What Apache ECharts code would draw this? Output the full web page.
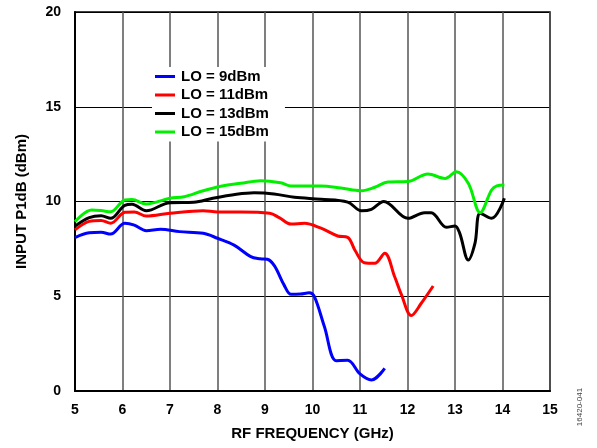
<!DOCTYPE html>
<html>
<head>
<meta charset="utf-8">
<script src="https://cdn.jsdelivr.net/npm/echarts@6/dist/echarts.min.js"></script>
<style>
html,body{margin:0;padding:0;background:#fff;}
#c{width:597px;height:448px;}
</style>
</head>
<body>
<div id="c"></div>
<script>
var seriesNames = ['LO = 9dBm', 'LO = 11dBm', 'LO = 13dBm', 'LO = 15dBm'];
var xTicks = [5, 6, 7, 8, 9, 10, 11, 12, 13, 14, 15];
var yTicks = [0, 5, 10, 15, 20];

var freq9 = [5.0, 5.3, 5.55, 5.75, 6.05, 6.25, 6.5, 6.8, 7.2, 7.7, 8.0, 8.35, 8.7, 8.9, 9.05, 9.2, 9.4, 9.55, 9.75, 9.93, 10.04, 10.25, 10.5, 10.74, 11.0, 11.24, 11.52];
var p1db9 = [8.1, 8.35, 8.38, 8.28, 8.85, 8.75, 8.46, 8.53, 8.41, 8.32, 8.06, 7.70, 7.09, 6.98, 6.95, 6.6, 5.6, 5.1, 5.12, 5.18, 4.98, 3.4, 1.6, 1.62, 0.9, 0.58, 1.2];

var freq11 = [5.0, 5.3, 5.55, 5.75, 6.05, 6.25, 6.5, 7.0, 7.7, 8.0, 8.5, 9.1, 9.3, 9.55, 9.83, 10.18, 10.53, 10.74, 10.9, 11.09, 11.31, 11.52, 11.73, 11.87, 12.08, 12.29, 12.54];
var p1db11 = [8.5, 8.95, 9.0, 8.85, 9.43, 9.45, 9.23, 9.38, 9.51, 9.45, 9.45, 9.38, 9.15, 8.81, 8.85, 8.59, 8.18, 8.11, 7.4, 6.77, 6.74, 7.27, 6.03, 5.1, 3.98, 4.63, 5.54];

var freq13 = [5.0, 5.3, 5.55, 5.75, 6.05, 6.2, 6.5, 7.0, 7.5, 7.9, 8.4, 8.77, 9.19, 9.62, 10.18, 10.74, 11.03, 11.24, 11.5, 12.01, 12.36, 12.5, 12.82, 13.0, 13.1, 13.28, 13.42, 13.53, 13.77, 14.04];
var p1db13 = [8.7, 9.15, 9.25, 9.11, 9.8, 9.85, 9.51, 9.94, 9.96, 10.17, 10.38, 10.46, 10.40, 10.22, 10.12, 9.97, 9.51, 9.59, 10.0, 9.11, 9.41, 9.41, 8.64, 8.71, 8.32, 6.91, 7.79, 9.38, 9.11, 10.17];

var freq15 = [5.0, 5.35, 5.55, 5.75, 6.05, 6.2, 6.5, 7.0, 7.3, 7.7, 8.1, 8.49, 8.91, 9.33, 9.55, 10.18, 10.6, 11.03, 11.31, 11.59, 12.0, 12.43, 12.79, 13.03, 13.28, 13.53, 13.77, 13.88, 14.04];
var p1db15 = [8.93, 9.55, 9.52, 9.46, 10.08, 10.1, 9.87, 10.17, 10.25, 10.57, 10.82, 10.96, 11.10, 10.99, 10.82, 10.82, 10.71, 10.57, 10.75, 11.03, 11.05, 11.45, 11.22, 11.57, 10.96, 9.41, 10.61, 10.82, 10.87];

var colors = ['#0000ff', '#ff0000', '#000000', '#00f000'];

function pairs(xs, ys) { return xs.map(function (x, i) { return [x, ys[i]]; }); }
var allX = [freq9, freq11, freq13, freq15];
var allY = [p1db9, p1db11, p1db13, p1db15];

var FONT = '"Liberation Sans", Arial, sans-serif';
var chart = echarts.init(document.getElementById('c'), null, {renderer: 'canvas'});
chart.setOption({
  animation: false,
  backgroundColor: '#fff',
  grid: {left: 75, right: 47, top: 12, bottom: 57, show: true, borderColor: '#000', borderWidth: 1.5, backgroundColor: 'transparent'},
  legend: {
    orient: 'vertical', left: 152, top: 67,
    data: seriesNames.map(function (n, i) { return {name: n, icon: 'rect'}; }),
    itemWidth: 20, itemHeight: 3, itemGap: 3.5,
    backgroundColor: '#fff', padding: [2, 16, 2, 3],
    textStyle: {fontFamily: FONT, fontWeight: 'bold', fontSize: 15, color: '#000', padding: [0, 0, 0, 1]},
    selectedMode: false
  },
  xAxis: {
    type: 'value', min: xTicks[0], max: xTicks[xTicks.length - 1], interval: 1,
    name: 'RF FREQUENCY (GHz)', nameLocation: 'middle', nameGap: 35,
    nameTextStyle: {fontFamily: FONT, fontWeight: 'bold', fontSize: 15, color: '#000'},
    axisLine: {show: true, lineStyle: {color: '#000', width: 2}},
    axisTick: {show: false},
    axisLabel: {fontFamily: FONT, fontWeight: 'bold', fontSize: 14, color: '#000', margin: 12},
    splitLine: {show: true, lineStyle: {color: '#555', width: 1.5}}
  },
  yAxis: {
    type: 'value', min: yTicks[0], max: yTicks[yTicks.length - 1], interval: 5,
    name: 'INPUT P1dB (dBm)', nameLocation: 'middle', nameGap: 46, nameRotate: 90,
    nameTextStyle: {fontFamily: FONT, fontWeight: 'bold', fontSize: 15, color: '#000'},
    axisLine: {show: true, lineStyle: {color: '#000', width: 2}},
    axisTick: {show: false},
    axisLabel: {fontFamily: FONT, fontWeight: 'bold', fontSize: 14, color: '#000', margin: 14},
    splitLine: {show: true, lineStyle: {color: '#000', width: 1.2}}
  },
  series: seriesNames.map(function (n, i) {
    return {
      name: n, type: 'line', smooth: 0.35, showSymbol: false, symbol: 'none',
      data: pairs(allX[i], allY[i]),
      lineStyle: {color: colors[i], width: 3}, itemStyle: {color: colors[i]},
      z: 2 + i
    };
  }),
  graphic: [{
    type: 'text', x: 580, y: 407, rotation: Math.PI / 2,
    style: {text: '16420-041', font: '8px ' + FONT, fill: '#444', align: 'center', verticalAlign: 'middle'}
  }]
});
</script>
</body>
</html>
